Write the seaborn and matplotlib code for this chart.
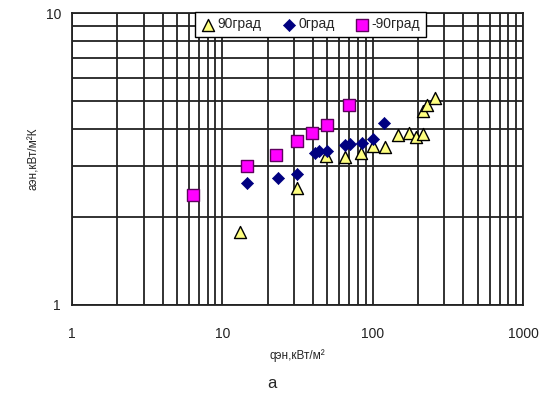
import matplotlib
matplotlib.use("Agg")
import matplotlib.pyplot as plt
from matplotlib.ticker import NullFormatter
import seaborn as sns
import pandas as pd

# 90 град
q_90 = [13.1, 31.3, 48.6, 65.8, 83.1, 101, 120, 148, 174, 194, 216, 217, 230, 260]
a_90 = [1.78, 2.51, 3.24, 3.21, 3.32, 3.50, 3.49, 3.82, 3.88, 3.75, 3.86, 4.62, 4.84, 5.10]

# 0 град
q_0 = [14.6, 23.4, 31.2, 41.5, 44.0, 49.7, 65.8, 70.5, 84.5, 101, 119]
a_0 = [2.62, 2.72, 2.81, 3.32, 3.36, 3.38, 3.52, 3.55, 3.58, 3.71, 4.21]

# -90 град
q_m90 = [6.4, 14.7, 22.8, 31.3, 39.5, 49.7, 69.7]
a_m90 = [2.38, 2.99, 3.26, 3.64, 3.89, 4.13, 4.84]

series_names = ["90град", "0град", "-90град"]

df = pd.concat([
    pd.DataFrame({"q": q_90, "a": a_90, "s": series_names[0]}),
    pd.DataFrame({"q": q_0, "a": a_0, "s": series_names[1]}),
    pd.DataFrame({"q": q_m90, "a": a_m90, "s": series_names[2]}),
])

sns.set_style("white")
plt.rcParams["font.family"] = ["Liberation Sans", "DejaVu Sans"]

fig = plt.figure(figsize=(5.43, 4.08), dpi=100)
ax = fig.add_axes([0.1326, 0.2525, 0.8305, 0.7155])

styles = {
    "90град": dict(marker="^", color="#FFFF80", edgecolor="black", s=75, linewidth=1.0),
    "0град": dict(marker="D", color="#000080", edgecolor="#000080", s=38, linewidth=0.5),
    "-90град": dict(marker="s", color="#FF00FF", edgecolor="#600060", s=85, linewidth=1.0),
}
for name in series_names:
    sns.scatterplot(data=df[df.s == name], x="q", y="a", ax=ax, label=name,
                    zorder=3, **styles[name])

ax.set_xscale("log")
ax.set_yscale("log")
ax.set_xlim(1, 1000)
ax.set_ylim(1, 10)

ax.grid(True, which="both", color="#222222", linewidth=1.3)
ax.set_axisbelow(True)
for sp in ax.spines.values():
    sp.set_color("#222222")
    sp.set_linewidth(1.3)

ax.set_xticks([1, 10, 100, 1000])
ax.set_xticklabels(["1", "10", "100", "1000"])
ax.set_yticks([1, 10])
ax.set_yticklabels(["1", "10"])
ax.xaxis.set_minor_formatter(NullFormatter())
ax.yaxis.set_minor_formatter(NullFormatter())
ax.tick_params(which="both", length=0, labelsize=10, colors="#222222")
ax.tick_params(axis="x", pad=16)
ax.tick_params(axis="y", pad=8)

ax.set_xlabel("qэн,кВт/м²", fontsize=8.5, labelpad=6)
ax.set_ylabel("aэн,кВт/м²К", fontsize=8.5, labelpad=4)

ax.legend(loc="upper center", bbox_to_anchor=(0.528, 1.004), ncol=3,
          frameon=True, fancybox=False, edgecolor="black", framealpha=1,
          fontsize=10, handletextpad=0.15, columnspacing=1.4,
          borderpad=0.4, handlelength=1.1, borderaxespad=0)

fig.text(0.5, 0.05, "а", ha="center", fontsize=12)

fig.savefig("out.png", dpi=100)
